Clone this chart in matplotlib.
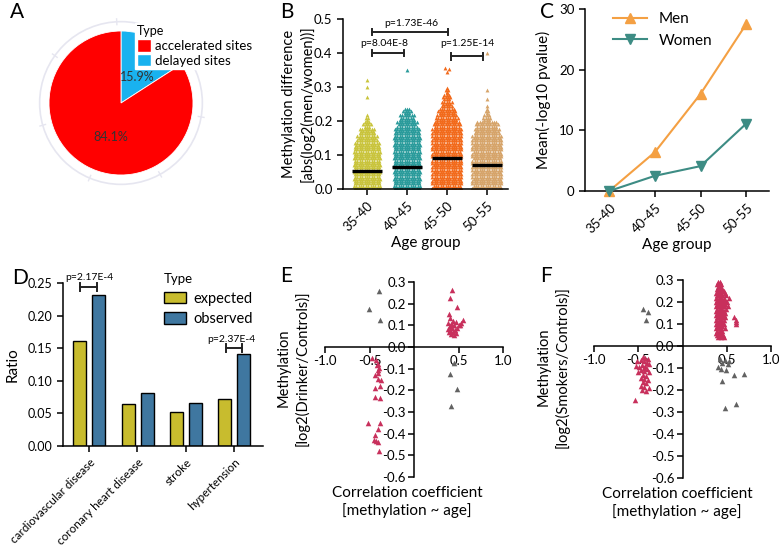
import numpy as np
import matplotlib
matplotlib.use("Agg")
import matplotlib.pyplot as plt
from matplotlib.patches import Patch, Circle

plt.rcParams["font.family"] = ["Lato", "DejaVu Sans"]
plt.rcParams["axes.unicode_minus"] = False
plt.rcParams["axes.linewidth"] = 1.1
plt.rcParams["xtick.major.width"] = 1.1
plt.rcParams["ytick.major.width"] = 1.1
plt.rcParams["xtick.major.size"] = 4
plt.rcParams["ytick.major.size"] = 4

# ---------------- data ----------------
# A: pie
site_types = ["accelerated sites", "delayed sites"]
site_pct = [84.1, 15.9]

# B: methylation difference by age group (swarm width profile per 0.02 band + outliers)
age_groups = ["35-40", "40-45", "45-50", "50-55"]
b_levels = [0.00, 0.02, 0.04, 0.06, 0.08, 0.10, 0.12, 0.14, 0.16, 0.18, 0.20, 0.22, 0.24, 0.26, 0.28]
b_half_yellow = [0.34, 0.34, 0.34, 0.34, 0.34, 0.33, 0.30, 0.25, 0.18, 0.10, 0.05, 0, 0, 0, 0]
b_half_teal = [0.35, 0.35, 0.35, 0.35, 0.35, 0.35, 0.35, 0.34, 0.30, 0.25, 0.20, 0.10, 0, 0, 0]
b_half_orange = [0.36, 0.36, 0.36, 0.36, 0.36, 0.36, 0.36, 0.36, 0.36, 0.34, 0.29, 0.21, 0.14, 0.09, 0.04]
b_half_tan = [0.37, 0.37, 0.37, 0.37, 0.37, 0.37, 0.37, 0.37, 0.32, 0.27, 0.10, 0.04, 0, 0, 0]
b_out_yellow = ([0.0, 0.0, 0.0], [0.27, 0.30, 0.32])
b_out_teal = ([0.0], [0.35])
b_out_orange = ([-0.05, 0.05, 0.0, 0.0], [0.355, 0.352, 0.345, 0.285])
b_out_tan = ([0.0, 0.0, 0.0, 0.0], [0.245, 0.265, 0.29, 0.40])
b_medians = [0.052, 0.064, 0.092, 0.071]

# C: mean(-log10 p) by age group
men_vals = [0.0, 6.4, 16.0, 27.5]
women_vals = [0.0, 2.5, 4.1, 11.1]

# D: disease ratio
diseases = ["cardiovascular disease", "coronary heart disease", "stroke", "hypertension"]
expected = [0.161, 0.0645, 0.0525, 0.072]
observed = [0.232, 0.081, 0.066, 0.1405]

# E: drinkers
e_gray_x = [-0.39, -0.51, -0.38, 0.45, 0.40, 0.48, 0.42]
e_gray_y = [0.257, 0.174, 0.123, -0.074, -0.126, -0.195, -0.271]
e_red_x = [0.43, 0.40, 0.48, 0.39, 0.41, 0.55, 0.44, 0.47, 0.38, 0.42, 0.50, 0.45, 0.40, 0.48, 0.43,
           0.38, 0.46, 0.41, 0.44, 0.39, 0.47, 0.42, 0.45, 0.52, 0.53, 0.40, 0.43,
           -0.47, -0.43, -0.41, -0.39, -0.41, -0.44, -0.40, -0.37, -0.38, -0.44, -0.44, -0.38,
           -0.52, -0.38, -0.40, -0.44, -0.45, -0.43, -0.40, -0.39, -0.42, -0.40]
e_red_y = [0.265, 0.228, 0.185, 0.154, 0.135, 0.126, 0.120, 0.115, 0.110, 0.105, 0.100, 0.100, 0.095, 0.090, 0.088,
           0.085, 0.080, 0.078, 0.070, 0.068, 0.065, 0.060, 0.055, 0.100, 0.110, 0.075, 0.100,
           -0.051, -0.062, -0.077, -0.095, -0.108, -0.131, -0.146, -0.151, -0.182, -0.188, -0.231, -0.234,
           -0.351, -0.351, -0.378, -0.408, -0.428, -0.434, -0.438, -0.480, -0.085, -0.120]

# F: smokers
f_gray_x = [-0.45, -0.39, -0.41, 0.42, 0.48, 0.53, 0.45, 0.40, 0.51, 0.49, 0.43, 0.58, 0.69, 0.45, 0.48, 0.60]
f_gray_y = [0.167, 0.156, 0.118, -0.059, -0.064, -0.068, -0.079, -0.094, -0.083, -0.109, -0.105, -0.130, -0.126,
            -0.160, -0.283, -0.265]
f_red_up_x = [0.40, 0.42, 0.39, 0.41, 0.43, 0.40, 0.42, 0.44, 0.39, 0.41, 0.45, 0.40, 0.43, 0.47,
              0.38, 0.41, 0.44, 0.48, 0.39, 0.42, 0.45, 0.49, 0.38, 0.41, 0.44, 0.47, 0.52,
              0.39, 0.42, 0.45, 0.48, 0.38, 0.41, 0.44, 0.47, 0.50, 0.39, 0.42, 0.45, 0.48,
              0.38, 0.41, 0.44, 0.47, 0.51, 0.39, 0.42, 0.45, 0.49, 0.38, 0.41, 0.44, 0.47,
              0.39, 0.42, 0.45, 0.48, 0.38, 0.41, 0.44, 0.47, 0.39, 0.42, 0.45, 0.48, 0.58, 0.61,
              0.38, 0.41, 0.44, 0.47, 0.39, 0.42, 0.45, 0.60, 0.38, 0.41, 0.44, 0.47, 0.61,
              0.39, 0.42, 0.45, 0.38, 0.41, 0.44, 0.48, 0.39, 0.42, 0.45, 0.38, 0.41, 0.44,
              0.39, 0.42, 0.46, 0.40, 0.43, 0.47]
f_red_up_y = [0.29, 0.29, 0.28, 0.28, 0.28, 0.27, 0.27, 0.27, 0.26, 0.26, 0.26, 0.25, 0.25, 0.25,
              0.24, 0.24, 0.24, 0.24, 0.23, 0.23, 0.23, 0.23, 0.22, 0.22, 0.22, 0.22, 0.22,
              0.21, 0.21, 0.21, 0.21, 0.20, 0.20, 0.20, 0.20, 0.20, 0.19, 0.19, 0.19, 0.19,
              0.18, 0.18, 0.18, 0.18, 0.18, 0.17, 0.17, 0.17, 0.17, 0.16, 0.16, 0.16, 0.16,
              0.15, 0.15, 0.15, 0.15, 0.14, 0.14, 0.14, 0.14, 0.13, 0.13, 0.13, 0.13, 0.13, 0.12,
              0.12, 0.12, 0.12, 0.12, 0.11, 0.11, 0.11, 0.11, 0.10, 0.10, 0.10, 0.10, 0.10,
              0.09, 0.09, 0.09, 0.08, 0.08, 0.08, 0.08, 0.07, 0.07, 0.07, 0.06, 0.06, 0.06,
              0.05, 0.05, 0.05, 0.04, 0.04, 0.04]
f_red_low_x = [-0.45, -0.42, -0.39, -0.47, -0.43, -0.40, -0.38, -0.46, -0.42, -0.49, -0.44, -0.40, -0.47,
               -0.43, -0.38, -0.50, -0.45, -0.41, -0.47, -0.43, -0.39, -0.45, -0.41, -0.47, -0.43, -0.38,
               -0.46, -0.41, -0.54, -0.52, -0.51]
f_red_low_y = [-0.050, -0.055, -0.060, -0.065, -0.070, -0.075, -0.080, -0.085, -0.090, -0.095, -0.100, -0.105,
               -0.110, -0.115, -0.120, -0.120, -0.130, -0.135, -0.145, -0.150, -0.155, -0.165, -0.170, -0.180,
               -0.185, -0.190, -0.200, -0.205, -0.245, -0.090, -0.070]

# ---------------- figure ----------------
W, H = 779, 551
fig = plt.figure(figsize=(W / 100, H / 100), dpi=100)


def px_axes(l, t, r, b):
    return fig.add_axes([l / W, 1 - b / H, (r - l) / W, (b - t) / H])


def letter(x, y, s):
    fig.text(x / W, 1 - y / H, s, fontsize=15, va="top", ha="left", color="black")


RED = "#FF0000"
BLUE = "#19B2EF"
TICK = 9
LAB = 10.5

# ---- A ----
axA = px_axes(121 - 90, 103 - 90, 121 + 90, 103 + 90)
axA.pie([site_pct[1], site_pct[0]], colors=[BLUE, RED], startangle=90, counterclock=False,
        wedgeprops=dict(edgecolor="white", linewidth=0.6))
axA.set_xlim(-1.25, 1.25)
axA.set_ylim(-1.25, 1.25)
axA.add_patch(Circle((0, 0), 1.13, fill=False, ec="#E6E6F0", lw=1.2))
for k in range(7):
    ang = np.deg2rad(93 + k * 360 / 7)
    axA.plot([1.09 * np.cos(ang), 1.17 * np.cos(ang)], [1.09 * np.sin(ang), 1.17 * np.sin(ang)],
             color="#E6E6F0", lw=1.0)
axA.text(0.22, 0.36, f"{site_pct[1]}%", fontsize=9, ha="center", va="center", color="#333333")
axA.text(-0.14, -0.47, f"{site_pct[0]}%", fontsize=9, ha="center", va="center", color="#333333")
axA.axis("off")
legA = fig.legend(handles=[Patch(facecolor=RED, edgecolor="white"), Patch(facecolor=BLUE, edgecolor="white")],
                  labels=site_types, title="Type", loc="upper left",
                  bbox_to_anchor=(135 / W, 1 - 23 / H), fontsize=9.5, title_fontsize=9,
                  frameon=True, fancybox=False, framealpha=1, edgecolor="white",
                  handlelength=1.1, handleheight=1.1, handletextpad=0.3, borderpad=0.15,
                  labelspacing=0.15, borderaxespad=0)
legA._legend_box.align = "left"
letter(10, 2, "A")

# ---- B ----
axB = px_axes(343, 19, 508, 189)
b_half = [b_half_yellow, b_half_teal, b_half_orange, b_half_tan]
b_out = [b_out_yellow, b_out_teal, b_out_orange, b_out_tan]
b_colors = ["#C9C43C", "#2A9B9B", "#F26A1B", "#D6A46A"]
dx = 0.06
for i in range(4):
    xs, ys = [], []
    for lev, hw in zip(b_levels, b_half[i]):
        if hw <= 0:
            continue
        for k in range(3):
            yy = lev + 0.0033 + k * 0.0067
            n = int(hw / dx) + 1
            cols = (np.arange(-n, n + 1) + 0.5 * (k % 2)) * dx
            cols = cols[np.abs(cols) <= hw]
            xs.extend(i + cols)
            ys.extend([yy] * len(cols))
    xs.extend(i + np.array(b_out[i][0]))
    ys.extend(b_out[i][1])
    axB.plot(xs, ys, ls="none", marker="^", ms=2.8, mew=0, color=b_colors[i])
    axB.plot([i - 0.38, i + 0.38], [b_medians[i], b_medians[i]], color="black", lw=2.4, solid_capstyle="butt")

brackets = [(0.12, 2.03, 0.462, "p=1.73E-46", 1.1, 0.474),
            (0.12, 0.93, 0.40, "p=8.04E-8", 0.43, 0.415),
            (2.1, 2.9, 0.39, "p=1.25E-14", 2.5, 0.415)]
for x0, x1, yb, s, tx, ty in brackets:
    axB.plot([x0, x1], [yb, yb], color="#222222", lw=1.4)
    axB.plot([x0, x0], [yb - 0.01, yb + 0.01], color="#222222", lw=1.4)
    axB.plot([x1, x1], [yb - 0.01, yb + 0.01], color="#222222", lw=1.4)
    axB.text(tx, ty, s, fontsize=7.5, ha="center", va="bottom")
axB.set_xlim(-0.6, 3.53)
axB.set_ylim(0, 0.5)
axB.set_yticks([0, 0.1, 0.2, 0.3, 0.4, 0.5])
axB.set_yticklabels(["0.0", "0.1", "0.2", "0.3", "0.4", "0.5"], fontsize=TICK + 0.5)
axB.set_xticks(range(4))
axB.set_xticklabels(age_groups, rotation=45, ha="right", rotation_mode="anchor", fontsize=TICK + 0.5)
axB.spines[["top", "right"]].set_visible(False)
axB.set_ylabel("Methylation difference\n[abs(log2(men/women))]", fontsize=LAB, va="center", linespacing=1.3)
axB.yaxis.set_label_coords(-0.27, 0.5)
axB.set_xlabel("Age group", fontsize=LAB + 0.5, labelpad=2)
letter(280, 2, "B")

# ---- C ----
axC = px_axes(585, 9, 769, 191)
xc = np.arange(4)
axC.plot(xc, men_vals, color="#F4A043", lw=1.5, marker="^", ms=7, clip_on=False, zorder=3, label="Men")
axC.plot(xc, women_vals, color="#3D8C84", lw=1.5, marker="v", ms=7, clip_on=False, zorder=3, label="Women")
axC.set_xlim(-0.53, 3.5)
axC.set_ylim(0, 30)
axC.set_yticks([0, 10, 20, 30])
axC.tick_params(labelsize=TICK + 0.5)
axC.set_xticks(xc)
axC.set_xticklabels(age_groups, rotation=45, ha="right", rotation_mode="anchor")
axC.spines[["top", "right"]].set_visible(False)
axC.set_ylabel("Mean(-log10 pvalue)", fontsize=LAB + 0.5, labelpad=6)
axC.set_xlabel("Age group", fontsize=LAB + 0.5, labelpad=2)
axC.legend(loc="upper left", bbox_to_anchor=(613 / W, 1 - 12 / H), bbox_transform=fig.transFigure,
           frameon=False, fontsize=11, handlelength=2.2, borderaxespad=0, borderpad=0, labelspacing=0.5)
letter(540, 2, "C")

# ---- D ----
axD = px_axes(63, 283, 263, 446)
xd = np.arange(4)
axD.bar(xd - 0.19, expected, width=0.27, color="#C8BC2E", edgecolor="black", lw=1.0, label="expected")
axD.bar(xd + 0.2, observed, width=0.27, color="#3F77A0", edgecolor="black", lw=1.0, label="observed")
for x0, x1, yb, s, tx, ty in [(-0.19, 0.17, 0.244, "p=2.17E-4", 0.0, 0.251),
                              (2.83, 3.17, 0.150, "p=2.37E-4", 2.95, 0.156)]:
    axD.plot([x0, x1], [yb, yb], color="#222222", lw=1.4, clip_on=False)
    axD.plot([x0, x0], [yb - 0.006, yb + 0.006], color="#222222", lw=1.4, clip_on=False)
    axD.plot([x1, x1], [yb - 0.006, yb + 0.006], color="#222222", lw=1.4, clip_on=False)
    axD.text(tx, ty, s, fontsize=7.5, ha="center", va="bottom")
axD.set_xlim(-0.54, 3.6)
axD.set_ylim(0, 0.25)
axD.set_yticks([0, 0.05, 0.10, 0.15, 0.20, 0.25])
axD.set_yticklabels(["0.00", "0.05", "0.10", "0.15", "0.20", "0.25"], fontsize=TICK)
axD.set_xticks(xd)
axD.set_xticklabels(diseases, rotation=45, ha="right", rotation_mode="anchor", fontsize=TICK - 0.6)
axD.spines[["top", "right"]].set_visible(False)
axD.set_ylabel("Ratio", fontsize=LAB + 0.5, labelpad=6)
legD = axD.legend(title="Type", loc="upper left", bbox_to_anchor=(164 / W, 1 - 273 / H),
                  bbox_transform=fig.transFigure, frameon=False, fontsize=10.5, title_fontsize=9.5,
                  handlelength=1.5, handleheight=0.8, handletextpad=0.5, borderaxespad=0, borderpad=0,
                  labelspacing=0.45)
legD._legend_box.align = "left"
letter(12, 268, "D")

# ---- E / F ----
GRAY = "#626262"
CRIM = "#C8305C"


def corr_panel(l, t, r, b, gx, gy, rx, ry, ylab, ylab_x, ylab_y, xlab_x, xlab_y):
    ax = px_axes(l, t, r, b)
    ax.scatter(gx, gy, marker="^", s=16, color=GRAY, lw=0, zorder=3)
    ax.scatter(rx, ry, marker="^", s=16, color=CRIM, lw=0, zorder=3)
    ax.set_xlim(-1, 1)
    ax.set_ylim(-0.6, 0.3)
    ax.spines["left"].set_position(("data", 0))
    ax.spines["bottom"].set_position(("data", 0))
    ax.spines[["top", "right"]].set_visible(False)
    ax.set_xticks([-1, -0.5, 0.5, 1])
    ax.set_xticklabels(["-1.0", "-0.5", "0.5", "1.0"])
    yt = [0.3, 0.2, 0.1, 0.0, -0.1, -0.2, -0.3, -0.4, -0.5, -0.6]
    ax.set_yticks(yt)
    ax.set_yticklabels([f"{v:.1f}" if v != 0 else "0.0" for v in yt])
    ax.tick_params(labelsize=TICK + 0.5, pad=2)
    ax.set_ylabel(ylab, fontsize=LAB, va="center", linespacing=1.35)
    ax.yaxis.set_label_coords(ylab_x, ylab_y)
    ax.set_xlabel("Correlation coefficient\n[methylation ~ age]", fontsize=LAB + 0.5, va="center",
                  linespacing=1.25)
    ax.xaxis.set_label_coords(xlab_x, xlab_y)
    return ax


corr_panel(325, 282, 503, 477, e_gray_x, e_gray_y, e_red_x, e_red_y,
           "Methylation\n[log2(Drinker/Controls)]", -0.18, 0.56, 0.46, -0.13)
letter(280, 266, "E")

corr_panel(594, 280, 771, 478, f_gray_x, f_gray_y, f_red_up_x + f_red_low_x, f_red_up_y + f_red_low_y,
           "Methylation\n[log2(Smokers/Controls)]", -0.23, 0.56, 0.47, -0.125)
letter(540, 266, "F")

fig.savefig("out.png", dpi=100)
